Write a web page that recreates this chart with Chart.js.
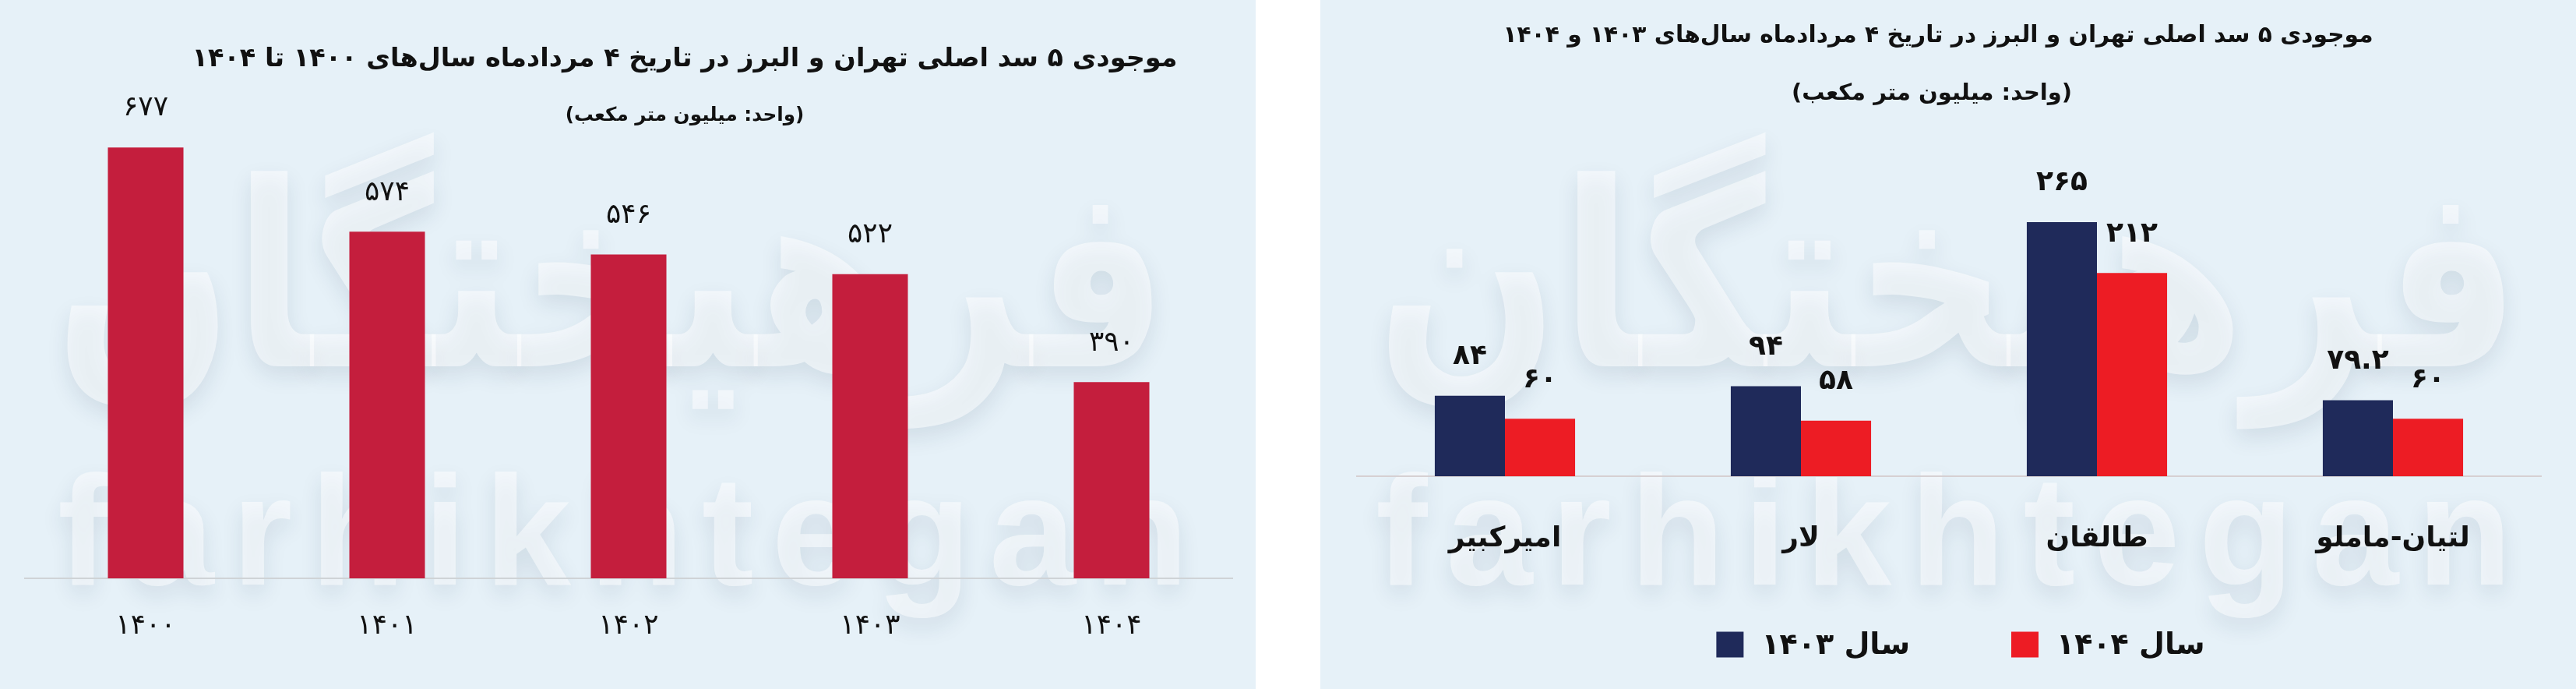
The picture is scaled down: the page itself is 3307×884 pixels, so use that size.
<!DOCTYPE html>
<html lang="fa">
<head>
  <meta charset="UTF-8">
  <title>موجودی ۵ سد اصلی تهران و البرز</title>
  <script src="https://cdn.jsdelivr.net/npm/chart.js"></script>
  <style>
    html, body { margin: 0; padding: 0; background: #ffffff; }
    body { width: 3307px; height: 884px; position: relative; overflow: hidden; font-family: "DejaVu Sans", sans-serif; }
    .panel { position: absolute; top: 0; width: 1612px; height: 884px; background: #e6f1f8; }
    #panelLeft { left: 0; }
    #panelRight { left: 1695px; }
    .panel canvas { position: absolute; left: 0; top: 0; }
    .txt { position: absolute; white-space: nowrap; direction: rtl; transform: translate(-50%, -50%); color: #111; font-weight: bold; z-index: 2; }
  </style>
</head>
<body>

<div class="panel" id="panelLeft">
  <canvas id="chartYears" width="1612" height="884"></canvas>
  <div class="txt" style="left:879px; top:73px; font-size:33.5px;">موجودی ۵ سد اصلی تهران و البرز در تاریخ ۴ مردادماه سال‌های ۱۴۰۰ تا ۱۴۰۴</div>
  <div class="txt" style="left:879px; top:146px; font-size:24.7px;">(واحد: میلیون متر مکعب)</div>
</div>

<div class="panel" id="panelRight">
  <canvas id="chartDams" width="1612" height="884"></canvas>
  <div class="txt" style="left:793px; top:43px; font-size:29.7px;">موجودی ۵ سد اصلی تهران و البرز در تاریخ ۴ مردادماه سال‌های ۱۴۰۳ و ۱۴۰۴</div>
  <div class="txt" style="left:785px; top:118px; font-size:29px;">(واحد: میلیون متر مکعب)</div>
</div>

<script>
  // داده‌ها
  const yearLabels = ['۱۴۰۰', '۱۴۰۱', '۱۴۰۲', '۱۴۰۳', '۱۴۰۴'];
  const yearStorage = [677, 574, 546, 522, 390];

  const damLabels = ['امیرکبیر', 'لار', 'طالقان', 'لتیان-ماملو'];
  const storage1403 = [84, 94, 265, 79.2];
  const storage1404 = [60, 58, 212, 60];
  const seriesNames = ['سال ۱۴۰۳', 'سال ۱۴۰۴'];

  const FONT = '"DejaVu Sans", sans-serif';
  Chart.defaults.font.family = FONT;
  Chart.defaults.color = '#111';

  const faDigits = v => String(v).replace(/\d/g, d => '۰۱۲۳۴۵۶۷۸۹'[d]);

  // اعداد بالای ستون‌ها
  const valueLabels = {
    id: 'valueLabels',
    afterDatasetsDraw(chart, args, opts) {
      const ctx = chart.ctx;
      ctx.save();
      ctx.font = opts.font;
      ctx.fillStyle = '#111';
      ctx.textAlign = 'center';
      ctx.textBaseline = 'middle';
      chart.data.datasets.forEach((ds, i) => {
        chart.getDatasetMeta(i).data.forEach((bar, j) => {
          ctx.fillText(faDigits(ds.data[j]), bar.x, bar.y - opts.offset);
        });
      });
      ctx.restore();
    }
  };

  // راهنمای پایین نمودار
  const bottomLegend = {
    id: 'bottomLegend',
    afterDraw(chart, args, opts) {
      if (!opts.show) return;
      const ctx = chart.ctx;
      ctx.save();
      ctx.font = opts.font;
      ctx.direction = 'rtl';
      ctx.textAlign = 'left';
      ctx.textBaseline = 'middle';
      const items = chart.data.datasets.map(ds => ({
        text: ds.label, color: ds.backgroundColor, w: ctx.measureText(ds.label).width
      }));
      const widths = items.map(it => opts.boxW + opts.textGap + it.w);
      const total = widths.reduce((a, b) => a + b, 0) + opts.itemGap * (items.length - 1);
      let x = opts.cx - total / 2;
      items.forEach((it, i) => {
        ctx.fillStyle = it.color;
        ctx.fillRect(x, opts.cy - opts.boxH / 2, opts.boxW, opts.boxH);
        ctx.fillStyle = '#111';
        ctx.fillText(it.text, x + opts.boxW + opts.textGap, opts.cy + 2);
        x += widths[i] + opts.itemGap;
      });
      ctx.restore();
    }
  };

  // واترمارک پس‌زمینه
  const watermark = {
    id: 'watermark',
    beforeDraw(chart, args, opts) {
      const ctx = chart.ctx;
      ctx.save();
      ctx.fillStyle = 'rgba(255,255,255,0.5)';
      ctx.shadowColor = 'rgba(20,50,80,0.2)';
      ctx.shadowBlur = 28;
      ctx.shadowOffsetY = 12;
      ctx.textBaseline = 'alphabetic';

      ctx.font = 'bold 330px ' + FONT;
      ctx.direction = 'rtl';
      ctx.textAlign = 'center';
      const wFa = ctx.measureText(opts.fa).width;
      ctx.save();
      ctx.translate((opts.faX[0] + opts.faX[1]) / 2, opts.faBase);
      ctx.scale((opts.faX[1] - opts.faX[0]) / wFa, 1);
      ctx.fillText(opts.fa, 0, 0);
      ctx.restore();

      ctx.direction = 'ltr';
      ctx.textAlign = 'left';
      ctx.font = 'bold 200px "Liberation Sans", sans-serif';
      const chars = opts.en.split('');
      const widths = chars.map(c => ctx.measureText(c).width);
      const total = widths.reduce((a, b) => a + b, 0);
      const gap = (opts.enX[1] - opts.enX[0] - total) / (chars.length - 1);
      let x = opts.enX[0];
      chars.forEach((c, i) => {
        ctx.fillText(c, x, opts.enBase);
        x += widths[i] + gap;
      });
      ctx.restore();
    }
  };

  new Chart(document.getElementById('chartYears'), {
    type: 'bar',
    data: {
      labels: yearLabels,
      datasets: [{
        label: 'موجودی',
        data: yearStorage,
        backgroundColor: '#c41e3d',
        categoryPercentage: 1,
        barPercentage: 0.313
      }]
    },
    options: {
      responsive: false,
      animation: false,
      layout: { padding: { top: 165, left: 32, right: 30, bottom: 0 } },
      plugins: {
        legend: { display: false },
        tooltip: { enabled: false },
        valueLabels: { font: '36px ' + FONT, offset: 50 },
        bottomLegend: { show: false },
        watermark: { fa: 'فرهیختگان', faX: [70, 1500], faBase: 470, en: 'farhikhtegan', enX: [74, 1526], enBase: 750 }
      },
      scales: {
        x: {
          grid: { display: false, drawTicks: false },
          border: { color: '#cfd3d6', width: 2 },
          ticks: { font: { size: 36 }, padding: 40 },
          afterFit: s => { s.height = 142; }
        },
        y: { display: false, min: 150, max: 700 }
      }
    },
    plugins: [watermark, valueLabels, bottomLegend]
  });

  new Chart(document.getElementById('chartDams'), {
    type: 'bar',
    data: {
      labels: damLabels,
      datasets: [
        { label: seriesNames[0], data: storage1403, backgroundColor: '#1f2a5a' },
        { label: seriesNames[1], data: storage1404, backgroundColor: '#ed1c24' }
      ]
    },
    options: {
      responsive: false,
      animation: false,
      datasets: { bar: { categoryPercentage: 0.474, barPercentage: 1 } },
      layout: { padding: { top: 242, left: 47, right: 45, bottom: 133 } },
      plugins: {
        legend: { display: false },
        tooltip: { enabled: false },
        valueLabels: { font: 'bold 36px ' + FONT, offset: 50 },
        bottomLegend: { show: true, font: 'bold 38px ' + FONT, cx: 822, cy: 827, boxW: 35, boxH: 33, textGap: 23, itemGap: 130 },
        watermark: { fa: 'فرهیختگان', faX: [71, 1541], faBase: 470, en: 'farhikhtegan', enX: [71, 1530], enBase: 750 }
      },
      scales: {
        x: {
          grid: { display: false, drawTicks: false },
          border: { color: '#d6d0d2', width: 2 },
          ticks: { font: { size: 36, weight: 'bold' }, padding: 59 },
          afterFit: s => { s.height = 140; }
        },
        y: { display: false, min: 0, max: 300 }
      }
    },
    plugins: [watermark, valueLabels, bottomLegend]
  });
</script>

</body>
</html>
